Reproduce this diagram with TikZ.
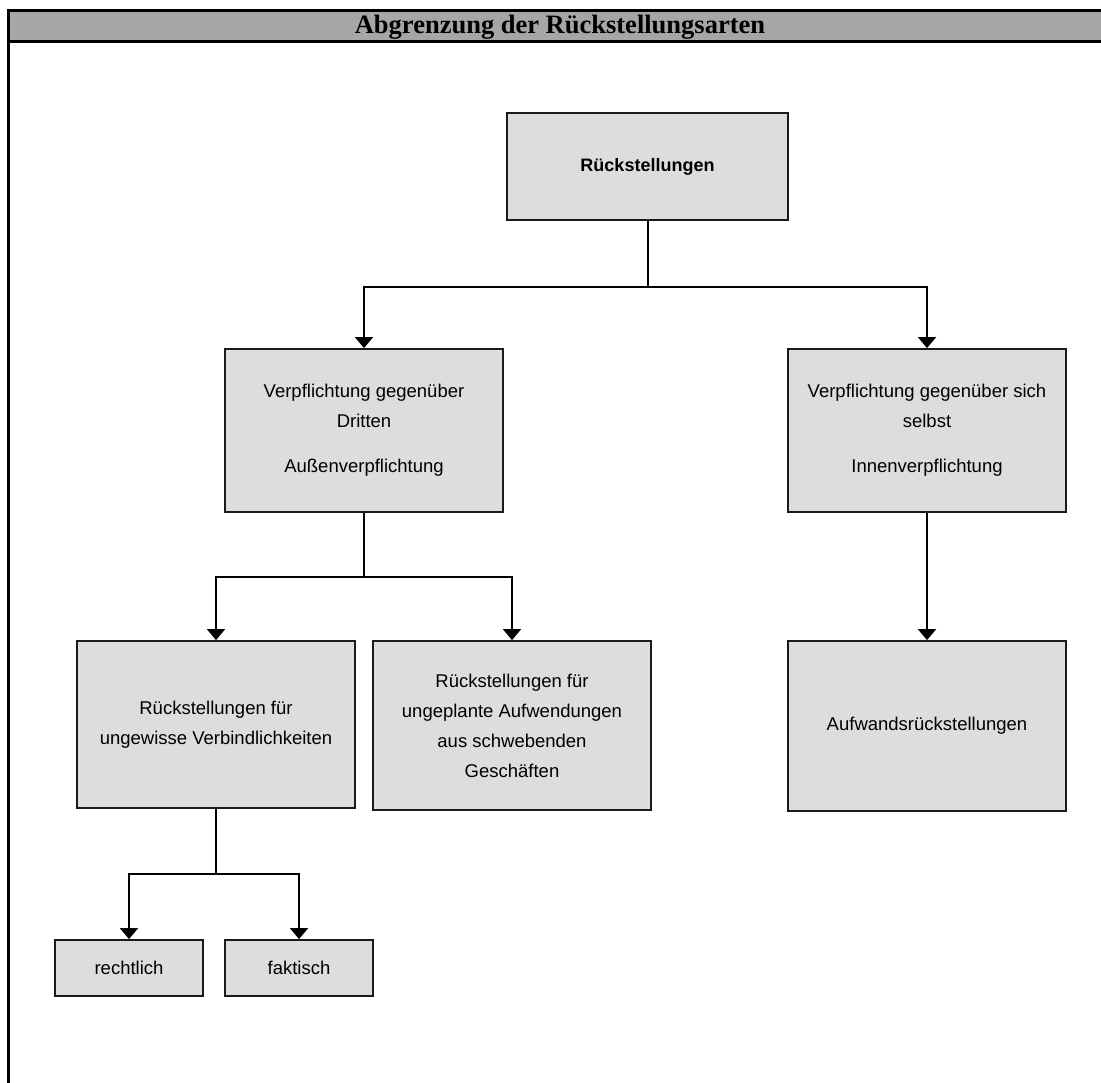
\documentclass[tikz,border=0pt]{standalone}
\usepackage{fontspec}
\setmainfont{Liberation Serif}
\setsansfont{Liberation Sans}
\usetikzlibrary{arrows.meta}
\definecolor{headgray}{HTML}{A6A6A6}
\definecolor{boxgray}{HTML}{DDDDDD}
\definecolor{edge}{HTML}{1A1A1A}
\begin{document}
\begin{tikzpicture}[x=1pt,y=-1pt,
  box/.style={draw=edge,line width=1.8pt,fill=boxgray,inner sep=0pt,
    align=center,font=\sffamily\fontsize{18.5}{30}\selectfont},
  link/.style={line width=2pt,draw=black},
  arr/.style={link,-{Triangle[width=18pt,length=11pt]}},
  frame/.style={line width=3pt,draw=black}]
\useasboundingbox (0,0) rectangle (1101,1083);

% title bar and left rule
\fill[headgray] (8,11) rectangle (1101,42);
\draw[frame] (6.5,11) -- (1101,11);
\draw[frame] (6.5,42) -- (1101,42);
\draw[frame] (8,9.5) -- (8,1083);
\node[font=\bfseries\fontsize{26.5}{26.5}\selectfont] (title) at (560,27.5) {Abgrenzung der Rückstellungsarten};

% boxes
\node[box,minimum width=281pt,minimum height=107pt,font=\sffamily\bfseries\fontsize{18}{30}\selectfont] (r) at (647.5,166.5) {Rückstellungen};
\node[box,minimum width=278pt,minimum height=163pt] (a) at (364,430.5)
  {Verpflichtung gegenüber\\Dritten\\[15pt]Außenverpflichtung};
\node[box,minimum width=278pt,minimum height=163pt] (b) at (927,430.5)
  {Verpflichtung gegenüber sich\\selbst\\[15pt]Innenverpflichtung};
\node[box,minimum width=278pt,minimum height=167pt] (c) at (216,724.5)
  {Rückstellungen für\\ungewisse Verbindlichkeiten};
\node[box,minimum width=278pt,minimum height=169pt] (d) at (512,725.5)
  {Rückstellungen für\\ungeplante Aufwendungen\\aus schwebenden\\Geschäften};
\node[box,minimum width=278pt,minimum height=170pt] (e) at (927,726)
  {Aufwandsrückstellungen};
\node[box,minimum width=148pt,minimum height=56pt] (f) at (129,968) {rechtlich};
\node[box,minimum width=148pt,minimum height=56pt] (g) at (299,968) {faktisch};

% branch points
\coordinate (j1) at (r.south |- 0,287);
\coordinate (j2) at (a.south |- 0,577);
\coordinate (j3) at (c.south |- 0,874);

% connectors
\draw[link] (r.south) -- (j1);
\draw[arr] (j1) -| (a.north);
\draw[arr] (j1) -| (b.north);
\draw[link] (a.south) -- (j2);
\draw[arr] (j2) -| (c.north);
\draw[arr] (j2) -| (d.north);
\draw[arr] (b.south) -- (e.north);
\draw[link] (c.south) -- (j3);
\draw[arr] (j3) -| (f.north);
\draw[arr] (j3) -| (g.north);
\end{tikzpicture}
\end{document}
